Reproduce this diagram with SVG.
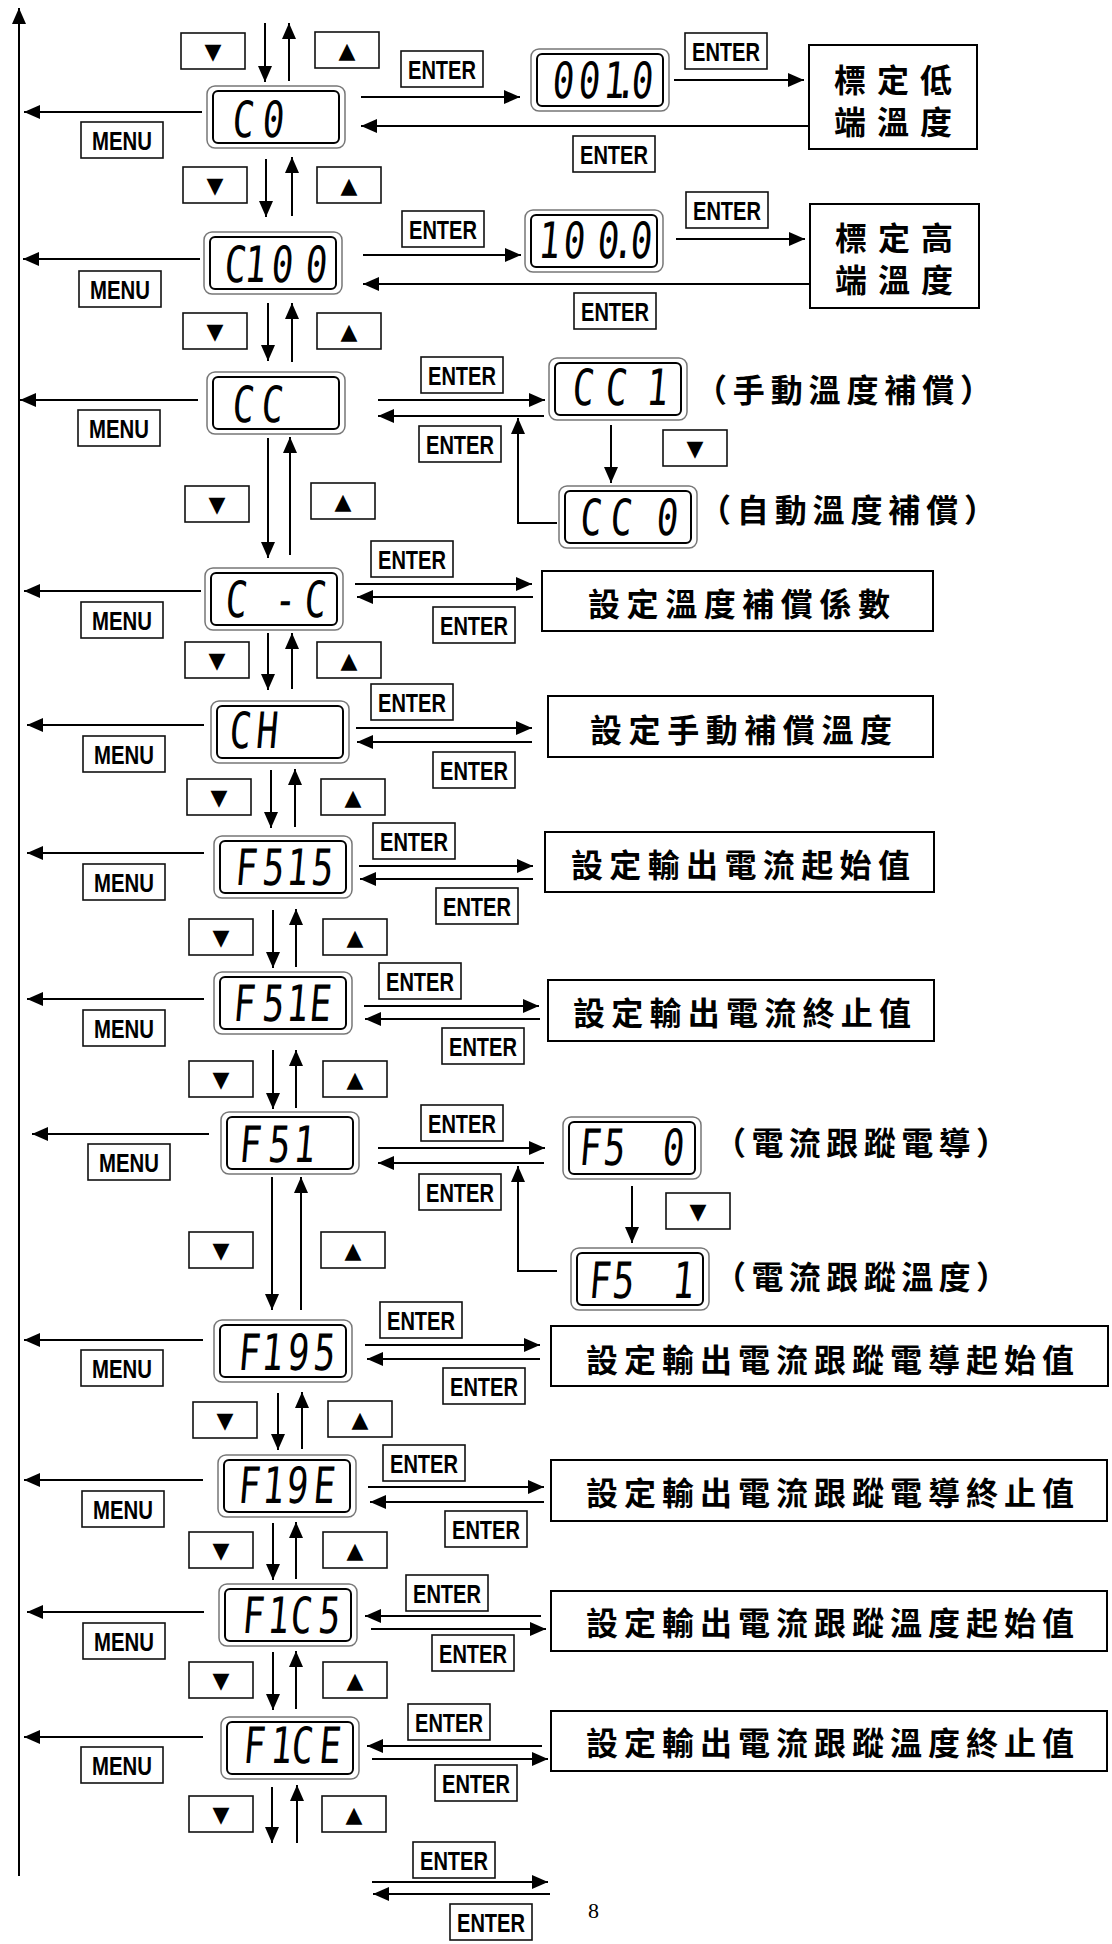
<svg xmlns="http://www.w3.org/2000/svg" width="1112" height="1944" viewBox="0 0 1112 1944">
<style>
.ln{fill:none;stroke:#000;stroke-width:2}
.key{fill:#fff;stroke:#111;stroke-width:1.6}
.kt{font-family:"Liberation Sans",Arial,sans-serif;font-weight:bold;font-size:26px;text-anchor:middle;fill:#000}
.tri{font-family:"DejaVu Sans",sans-serif;font-size:22px;text-anchor:middle;dominant-baseline:central;fill:#000}
.lo{fill:#fff;stroke:#777;stroke-width:1.5}
.li{fill:none;stroke:#000;stroke-width:2}
.lt{font-family:"DejaVu Sans Mono",monospace;font-size:50px;text-anchor:middle;fill:#000}
.box{fill:#fff;stroke:#000;stroke-width:2}
.cj{font-family:"Noto Sans CJK TC","Noto Sans CJK SC",sans-serif;font-weight:bold;font-size:32px;fill:#000}
.pg{font-family:"Liberation Serif","Times New Roman",serif;font-size:22px;fill:#000}
</style>
<defs>
<marker id="ah" viewBox="0 0 16 14" refX="16" refY="7" markerWidth="16" markerHeight="14" markerUnits="userSpaceOnUse" orient="auto"><path d="M0,0 L16,7 L0,14 z" fill="#000"/></marker>
<g id="dn"><rect class="key" x="0" y="0" width="64" height="36"/><text class="tri" x="32" y="18">▼</text></g>
<g id="up"><rect class="key" x="0" y="0" width="64" height="36"/><text class="tri" x="32" y="18">▲</text></g>
<g id="ent"><rect class="key" x="0" y="0" width="82" height="36"/><text class="kt" x="41" y="27.5" textLength="68" lengthAdjust="spacingAndGlyphs">ENTER</text></g>
<g id="menu"><rect class="key" x="0" y="0" width="82" height="36"/><text class="kt" x="41" y="27.5" font-size="27" textLength="60" lengthAdjust="spacingAndGlyphs">MENU</text></g>
<g id="lcd"><rect class="lo" x="0" y="0" width="138" height="62" rx="8"/><rect class="li" x="6" y="5" width="126" height="52" rx="5"/></g>
</defs>

<g id="connectors" marker-end="url(#ah)">
<path class="ln" d="M19,1876 V8"/>
<path class="ln" d="M265,23 V82"/><path class="ln" d="M289,81 V23"/>
<path class="ln" d="M266,159 V217"/><path class="ln" d="M292,216 V157"/>
<path class="ln" d="M268,303 V361"/><path class="ln" d="M292,362 V303"/>
<path class="ln" d="M268,438 V558"/><path class="ln" d="M290,555 V437"/>
<path class="ln" d="M268,633 V690"/><path class="ln" d="M292,689 V633"/>
<path class="ln" d="M271,770 V828"/><path class="ln" d="M295,827 V769"/>
<path class="ln" d="M273,910 V968"/><path class="ln" d="M296,967 V909"/>
<path class="ln" d="M273,1050 V1109"/><path class="ln" d="M296,1108 V1050"/>
<path class="ln" d="M272,1177 V1310"/><path class="ln" d="M301,1310 V1177"/>
<path class="ln" d="M278,1393 V1450"/><path class="ln" d="M302,1449 V1392"/>
<path class="ln" d="M273,1523 V1580"/><path class="ln" d="M296,1579 V1522"/>
<path class="ln" d="M273,1652 V1710"/><path class="ln" d="M296,1709 V1651"/>
<path class="ln" d="M272,1787 V1843"/><path class="ln" d="M297,1843 V1785"/>
<path class="ln" d="M202,112 H24"/>
<path class="ln" d="M200,259 H23"/>
<path class="ln" d="M198,400 H20"/>
<path class="ln" d="M201,591 H24"/>
<path class="ln" d="M204,725 H27"/>
<path class="ln" d="M204,853 H27"/>
<path class="ln" d="M204,999 H27"/>
<path class="ln" d="M209,1134 H32"/>
<path class="ln" d="M203,1340 H24"/>
<path class="ln" d="M203,1480 H24"/>
<path class="ln" d="M204,1612 H27"/>
<path class="ln" d="M203,1737 H24"/>
<path class="ln" d="M361,97 H520"/><path class="ln" d="M674,80 H804"/><path class="ln" d="M809,126 H361"/>
<path class="ln" d="M363,255 H521"/><path class="ln" d="M676,239 H805"/><path class="ln" d="M810,284 H363"/>
<path class="ln" d="M378,400 H545"/><path class="ln" d="M544,416 H378"/><path class="ln" d="M611,425 V483"/><path class="ln" d="M557,523 H518 V418"/>
<path class="ln" d="M355,584 H532"/><path class="ln" d="M533,597 H357"/>
<path class="ln" d="M356,728 H532"/><path class="ln" d="M532,742 H357"/>
<path class="ln" d="M359,866 H533"/><path class="ln" d="M533,879 H360"/>
<path class="ln" d="M364,1006 H539"/><path class="ln" d="M540,1019 H365"/>
<path class="ln" d="M378,1148 H545"/><path class="ln" d="M544,1163 H378"/><path class="ln" d="M632,1186 V1243"/><path class="ln" d="M557,1271 H518 V1166"/>
<path class="ln" d="M365,1345 H540"/><path class="ln" d="M540,1359 H367"/>
<path class="ln" d="M368,1487 H544"/><path class="ln" d="M544,1502 H370"/>
<path class="ln" d="M541,1616 H365"/><path class="ln" d="M371,1629 H546"/>
<path class="ln" d="M542,1746 H367"/><path class="ln" d="M372,1759 H548"/>
<path class="ln" d="M372,1882 H548"/><path class="ln" d="M550,1894 H373"/>
</g>

<g id="keys">
<use href="#dn" x="181" y="33"/><use href="#up" x="315" y="32"/>
<use href="#dn" x="183" y="167"/><use href="#up" x="317" y="167"/>
<use href="#dn" x="183" y="313"/><use href="#up" x="317" y="313"/>
<use href="#dn" x="185" y="486"/><use href="#up" x="311" y="483"/>
<use href="#dn" x="185" y="642"/><use href="#up" x="317" y="642"/>
<use href="#dn" x="187" y="779"/><use href="#up" x="321" y="779"/>
<use href="#dn" x="189" y="919"/><use href="#up" x="323" y="919"/>
<use href="#dn" x="189" y="1061"/><use href="#up" x="323" y="1061"/>
<use href="#dn" x="189" y="1232"/><use href="#up" x="321" y="1232"/>
<use href="#dn" x="193" y="1402"/><use href="#up" x="328" y="1401"/>
<use href="#dn" x="189" y="1532"/><use href="#up" x="323" y="1532"/>
<use href="#dn" x="189" y="1662"/><use href="#up" x="323" y="1662"/>
<use href="#dn" x="189" y="1796"/><use href="#up" x="322" y="1796"/>
<use href="#dn" x="663" y="430"/>
<use href="#dn" x="666" y="1193"/>
<use href="#menu" x="81" y="122"/><use href="#menu" x="79" y="271"/><use href="#menu" x="78" y="410"/>
<use href="#menu" x="81" y="602"/><use href="#menu" x="83" y="736"/><use href="#menu" x="83" y="864"/>
<use href="#menu" x="83" y="1010"/><use href="#menu" x="88" y="1144"/><use href="#menu" x="81" y="1350"/>
<use href="#menu" x="82" y="1491"/><use href="#menu" x="83" y="1623"/><use href="#menu" x="81" y="1747"/>
<use href="#ent" x="401" y="51"/><use href="#ent" x="685" y="33"/><use href="#ent" x="573" y="136"/>
<use href="#ent" x="402" y="211"/><use href="#ent" x="686" y="192"/><use href="#ent" x="574" y="293"/>
<use href="#ent" x="421" y="357"/><use href="#ent" x="419" y="426"/>
<use href="#ent" x="371" y="541"/><use href="#ent" x="433" y="607"/>
<use href="#ent" x="371" y="684"/><use href="#ent" x="433" y="752"/>
<use href="#ent" x="373" y="823"/><use href="#ent" x="436" y="888"/>
<use href="#ent" x="379" y="963"/><use href="#ent" x="442" y="1028"/>
<use href="#ent" x="421" y="1105"/><use href="#ent" x="419" y="1174"/>
<use href="#ent" x="380" y="1302"/><use href="#ent" x="443" y="1368"/>
<use href="#ent" x="383" y="1445"/><use href="#ent" x="445" y="1511"/>
<use href="#ent" x="406" y="1575"/><use href="#ent" x="432" y="1635"/>
<use href="#ent" x="408" y="1704"/><use href="#ent" x="435" y="1765"/>
<use href="#ent" x="413" y="1842"/><use href="#ent" x="450" y="1904"/>
</g>

<g id="n-C0"><use href="#lcd" x="207" y="86"/><text class="lt" transform="translate(0,137) skewX(-5) scale(0.72,1)" x="336.1 377.8" y="0">C0</text></g>
<g id="n-0010"><use href="#lcd" x="531" y="49"/><text class="lt" transform="translate(0,98) skewX(-5) scale(0.72,1)" x="780.6 816.7 851.4 868.1 890.3" y="0">001.0</text></g>
<g id="n-C100"><use href="#lcd" x="204" y="232"/><text class="lt" transform="translate(0,282) skewX(-5) scale(0.72,1)" x="325 352.8 390.3 437.5" y="0">C100</text></g>
<g id="n-1000"><use href="#lcd" x="525" y="210"/><text class="lt" transform="translate(0,258) skewX(-5) scale(0.72,1)" x="761.1 795.8 843.1 864.5 888.9" y="0">100.0</text></g>
<g id="n-CC"><use href="#lcd" x="207" y="372"/><text class="lt" transform="translate(0,422) skewX(-5) scale(0.72,1)" x="336.1 376.4" y="0">CC</text></g>
<g id="n-CC1"><use href="#lcd" x="549" y="358"/><text class="lt" xml:space="preserve" transform="translate(0,405) skewX(-5) scale(0.72,1)" x="808.3 854.2 883.3 911.1" y="0">CC 1</text></g>
<g id="n-CC0"><use href="#lcd" x="559" y="486"/><text class="lt" xml:space="preserve" transform="translate(0,535) skewX(-5) scale(0.72,1)" x="819.4 861.1 893.1 925" y="0">CC 0</text></g>
<g id="n-C-C"><use href="#lcd" x="205" y="568"/><text class="lt" xml:space="preserve" transform="translate(0,617) skewX(-5) scale(0.72,1)" x="326.4 361.1 394.4 436.1" y="0">C -C</text></g>
<g id="n-CH"><use href="#lcd" x="211" y="701"/><text class="lt" transform="translate(0,748) skewX(-5) scale(0.72,1)" x="331.9 369.4" y="0">CH</text></g>
<g id="n-F515"><use href="#lcd" x="214" y="836"/><text class="lt" transform="translate(0,885) skewX(-5) scale(0.72,1)" x="340.3 377.8 411.1 445.8" y="0">F515</text></g>
<g id="n-F51E"><use href="#lcd" x="214" y="972"/><text class="lt" transform="translate(0,1021) skewX(-5) scale(0.72,1)" x="337.5 377.8 411.1 443.1" y="0">F51E</text></g>
<g id="n-F51"><use href="#lcd" x="221" y="1112"/><text class="lt" transform="translate(0,1162) skewX(-5) scale(0.72,1)" x="345.8 386.1 420.8" y="0">F51</text></g>
<g id="n-F50"><use href="#lcd" x="563" y="1117"/><text class="lt" xml:space="preserve" transform="translate(0,1165) skewX(-5) scale(0.72,1)" x="818.1 851.4 888.9 933.3" y="0">F5 0</text></g>
<g id="n-F51b"><use href="#lcd" x="571" y="1248"/><text class="lt" xml:space="preserve" transform="translate(0,1298) skewX(-5) scale(0.72,1)" x="831.9 863.9 902.8 947.2" y="0">F5 1</text></g>
<g id="n-F195"><use href="#lcd" x="214" y="1320"/><text class="lt" transform="translate(0,1370) skewX(-5) scale(0.72,1)" x="344.4 376.4 412.5 448.6" y="0">F195</text></g>
<g id="n-F19E"><use href="#lcd" x="218" y="1455"/><text class="lt" transform="translate(0,1503) skewX(-5) scale(0.72,1)" x="344.4 377.8 411.1 448.6" y="0">F19E</text></g>
<g id="n-F1C5"><use href="#lcd" x="219" y="1584"/><text class="lt" transform="translate(0,1633) skewX(-5) scale(0.72,1)" x="350 384.7 416.7 455.6" y="0">F1C5</text></g>
<g id="n-F1CE"><use href="#lcd" x="221" y="1717"/><text class="lt" transform="translate(0,1763) skewX(-5) scale(0.72,1)" x="351.4 388.9 418.1 456.9" y="0">F1CE</text></g>

<g id="b-low"><rect class="box" x="809" y="45" width="168" height="104"/><text class="cj" x="834" y="92" textLength="118" lengthAdjust="spacing">標定低</text><text class="cj" x="834" y="134" textLength="118" lengthAdjust="spacing">端溫度</text></g>
<g id="b-high"><rect class="box" x="810" y="204" width="169" height="104"/><text class="cj" x="835" y="250" textLength="118" lengthAdjust="spacing">標定高</text><text class="cj" x="835" y="292" textLength="118" lengthAdjust="spacing">端溫度</text></g>
<g id="l-cc1"><text class="cj" x="695" y="402" textLength="297" lengthAdjust="spacing">（手動溫度補償）</text></g>
<g id="l-cc0"><text class="cj" x="699" y="522" textLength="297" lengthAdjust="spacing">（自動溫度補償）</text></g>
<g id="b-cc"><rect class="box" x="542" y="571" width="391" height="60"/><text class="cj" x="588" y="616" textLength="302" lengthAdjust="spacing">設定溫度補償係數</text></g>
<g id="b-ch"><rect class="box" x="548" y="696" width="385" height="61"/><text class="cj" x="590" y="742" textLength="302" lengthAdjust="spacing">設定手動補償溫度</text></g>
<g id="b-fs1s"><rect class="box" x="545" y="832" width="389" height="60"/><text class="cj" x="571" y="877" textLength="339" lengthAdjust="spacing">設定輸出電流起始值</text></g>
<g id="b-fs1e"><rect class="box" x="548" y="980" width="386" height="61"/><text class="cj" x="573" y="1025" textLength="338" lengthAdjust="spacing">設定輸出電流終止值</text></g>
<g id="l-fs0"><text class="cj" x="714" y="1155" textLength="294" lengthAdjust="spacing">（電流跟蹤電導）</text></g>
<g id="l-fs1"><text class="cj" x="714" y="1289" textLength="294" lengthAdjust="spacing">（電流跟蹤溫度）</text></g>
<g id="b-f19s"><rect class="box" x="551" y="1326" width="557" height="60"/><text class="cj" x="586" y="1372" textLength="488" lengthAdjust="spacing">設定輸出電流跟蹤電導起始值</text></g>
<g id="b-f19e"><rect class="box" x="551" y="1460" width="556" height="61"/><text class="cj" x="586" y="1505" textLength="488" lengthAdjust="spacing">設定輸出電流跟蹤電導終止值</text></g>
<g id="b-f1cs"><rect class="box" x="551" y="1591" width="556" height="60"/><text class="cj" x="586" y="1635" textLength="488" lengthAdjust="spacing">設定輸出電流跟蹤溫度起始值</text></g>
<g id="b-f1ce"><rect class="box" x="551" y="1711" width="556" height="60"/><text class="cj" x="586" y="1755" textLength="488" lengthAdjust="spacing">設定輸出電流跟蹤溫度終止值</text></g>
<text class="pg" x="588" y="1918">8</text>
</svg>
